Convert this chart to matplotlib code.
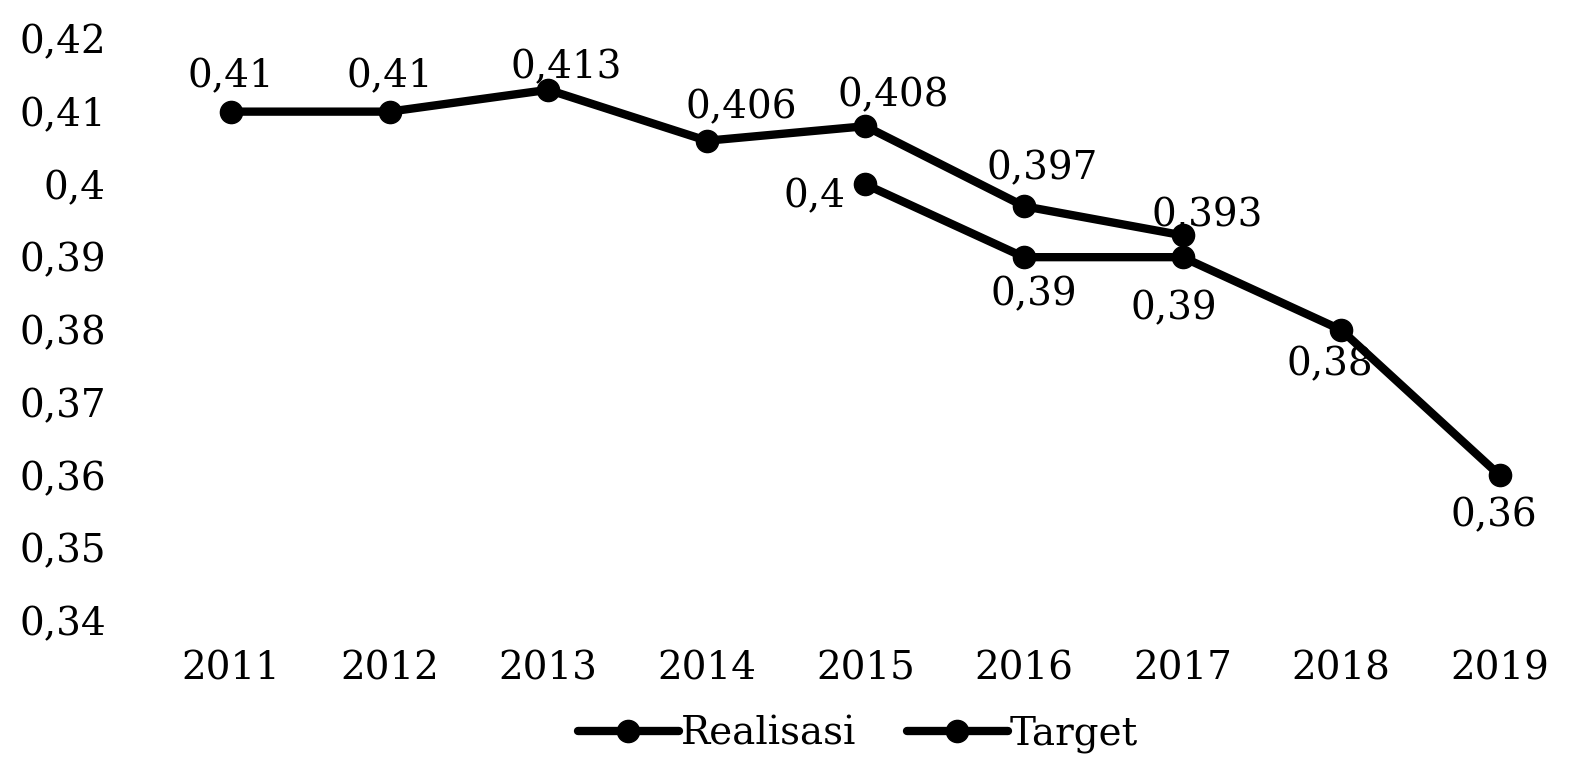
import matplotlib
matplotlib.use("Agg")
import matplotlib.pyplot as plt
from matplotlib.ticker import FixedLocator, FixedFormatter

years = ["2011", "2012", "2013", "2014", "2015", "2016", "2017", "2018", "2019"]
realisasi = [0.41, 0.41, 0.413, 0.406, 0.408, 0.397, 0.393, None, None]
target = [None, None, None, None, 0.4, 0.39, 0.39, 0.38, 0.36]
yticks = [0.34, 0.35, 0.36, 0.37, 0.38, 0.39, 0.40, 0.41, 0.42]
ytick_labels = ["0,34", "0,35", "0,36", "0,37", "0,38", "0,39", "0,4", "0,41", "0,42"]

plt.rcParams['font.family'] = ['DejaVu Serif']
FS = 28

fig = plt.figure(figsize=(15.92, 7.62), dpi=100)
ax = fig.add_axes([0.0953, 0.185, 0.8966, 0.764])

def series(vals):
    xs = [i for i, v in enumerate(vals) if v is not None]
    ys = [v for v in vals if v is not None]
    return xs, ys

rx, ry = series(realisasi)
tx, ty = series(target)
style = dict(color='black', lw=6.0, marker='o', markersize=16, solid_capstyle='round')
ax.plot(rx, ry, label='Realisasi', **style)
ax.plot(tx, ty, label='Target', **style)

def fmt(v):
    return ("%g" % v).replace('.', ',')

# label offsets in points (dx, dy)
r_off = [(0, 25), (0, 25), (13, 16), (25, 24), (20, 22), (13, 27), (18, 14)]
t_off = [(-37, -9), (7, -27), (-6, -37), (-8, -25), (-4, -29)]
for (x, y), (dx, dy) in zip(zip(rx, ry), r_off):
    ax.annotate(fmt(y), (x, y), xytext=(dx, dy), textcoords='offset points',
                ha='center', va='center', fontsize=FS)
for (x, y), (dx, dy) in zip(zip(tx, ty), t_off):
    ax.annotate(fmt(y), (x, y), xytext=(dx, dy), textcoords='offset points',
                ha='center', va='center', fontsize=FS)

ax.set_xlim(-0.5, 8.5)
ax.set_ylim(0.34, 0.42)
ax.set_xticks(range(len(years)))
ax.set_xticklabels(years, fontsize=FS)
ax.yaxis.set_major_locator(FixedLocator(yticks))
ax.yaxis.set_major_formatter(FixedFormatter(ytick_labels))
ax.tick_params(axis='y', length=0, pad=33, labelsize=FS)
ax.tick_params(axis='x', length=0, pad=21, labelsize=FS)
for s in ax.spines.values():
    s.set_visible(False)

fig.legend(loc='center', bbox_to_anchor=(0.539, 0.036), ncol=2, frameon=False,
           fontsize=FS, handlelength=2.6, handletextpad=0.05, columnspacing=1.3,
           borderpad=0, borderaxespad=0)

fig.savefig('out.png', dpi=100, facecolor='white')
